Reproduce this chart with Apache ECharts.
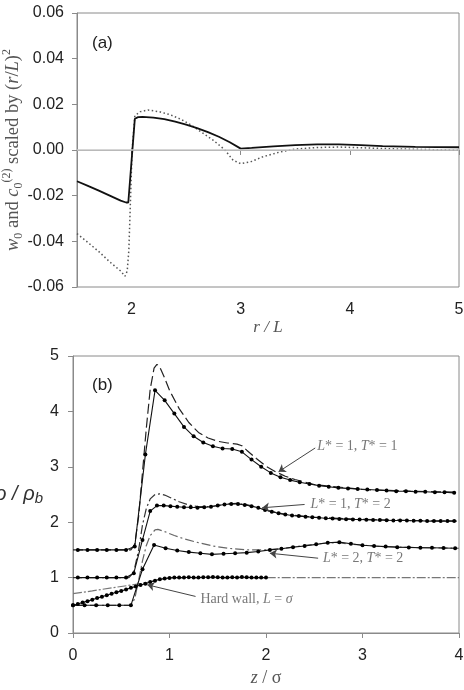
<!DOCTYPE html>
<html>
<head>
<meta charset="utf-8">
<script src="https://cdn.jsdelivr.net/npm/echarts@6/dist/echarts.min.js"></script>
<style>
  html, body { margin: 0; padding: 0; background: #fff; }
  #chart { width: 464px; height: 690px; }
</style>
</head>
<body>
<div id="chart"></div>
<script>
// ---- panel (a): w0 (solid) and c0(2) (dotted), both scaled by (r/L)^2 ----
const aTicks = [2, 3, 4, 5];
const w0R   = [1.5, 1.6, 1.7, 1.8, 1.9, 1.95, 1.97, 2.03, 2.06, 2.1, 2.2, 2.3, 2.4, 2.5, 2.6, 2.7, 2.8, 2.9, 3.0, 3.1, 3.3, 3.5, 3.7, 3.9, 4.1, 4.3, 4.6, 5.0];
const w0Val = [-0.0137, -0.0157, -0.0178, -0.0200, -0.0222, -0.0230, -0.0230, 0.0137, 0.0144, 0.0145, 0.0142, 0.0135, 0.0124, 0.0111, 0.0096, 0.0078, 0.0058, 0.0034, 0.0006, 0.0009, 0.0016, 0.0021, 0.0025, 0.0025, 0.0021, 0.0017, 0.0014, 0.0012];
const c0R   = [1.5, 1.6, 1.7, 1.8, 1.9, 1.94, 1.96, 1.975, 1.99, 2.005, 2.03, 2.08, 2.15, 2.25, 2.35, 2.45, 2.55, 2.65, 2.75, 2.85, 2.93, 3.0, 3.1, 3.2, 3.35, 3.5, 3.7, 3.9, 4.1, 4.4, 4.7, 5.0];
const c0Val = [-0.0366, -0.0405, -0.0445, -0.0490, -0.0530, -0.0553, -0.0530, -0.0440, -0.0220, 0.0000, 0.0150, 0.0168, 0.0175, 0.0168, 0.0155, 0.0135, 0.0108, 0.0075, 0.0042, 0.0003, -0.0045, -0.0060, -0.0050, -0.0030, -0.0010, 0.0004, 0.0011, 0.0013, 0.0010, 0.0005, 0.0002, 0.0000];

// ---- panel (b): density profiles, simulation (dots) and theory (dashed) ----
const l1t1SimZ   = [0.05, 0.15, 0.25, 0.35, 0.45, 0.55, 0.64, 0.75, 0.85, 0.95, 1.05, 1.15, 1.25, 1.35, 1.45, 1.55, 1.65, 1.75, 1.85, 1.95, 2.05, 2.15, 2.25, 2.35, 2.45, 2.55, 2.65, 2.75, 2.85, 2.95, 3.05, 3.15, 3.25, 3.35, 3.45, 3.55, 3.65, 3.75, 3.85, 3.95];
const l1t1SimRho = [1.5, 1.5, 1.5, 1.5, 1.5, 1.5, 1.56, 3.22, 4.38, 4.2, 3.96, 3.72, 3.55, 3.44, 3.37, 3.33, 3.32, 3.27, 3.13, 3.0, 2.89, 2.81, 2.76, 2.72, 2.69, 2.66, 2.64, 2.62, 2.61, 2.6, 2.59, 2.58, 2.57, 2.56, 2.56, 2.55, 2.55, 2.54, 2.54, 2.53];
const l1t1ThZ    = [0, 0.6, 0.64, 0.68, 0.72, 0.76, 0.8, 0.84, 0.87, 0.9, 0.95, 1.0, 1.1, 1.2, 1.3, 1.4, 1.5, 1.6, 1.7, 1.75, 1.8, 1.9, 2.0, 2.1, 2.2, 2.3, 2.5, 3.0, 3.5, 4.0];
const l1t1ThRho  = [1.5, 1.5, 1.6, 2.1, 2.9, 3.7, 4.4, 4.78, 4.85, 4.8, 4.6, 4.38, 4.05, 3.8, 3.62, 3.52, 3.46, 3.43, 3.41, 3.38, 3.3, 3.15, 3.01, 2.91, 2.83, 2.77, 2.68, 2.59, 2.56, 2.54];

const l1t2SimZ   = [0.05, 0.15, 0.25, 0.35, 0.45, 0.55, 0.63, 0.72, 0.8, 0.87, 0.94, 1.01, 1.08, 1.15, 1.22, 1.29, 1.36, 1.43, 1.5, 1.57, 1.64, 1.71, 1.78, 1.85, 1.92, 1.99, 2.06, 2.13, 2.2, 2.27, 2.34, 2.41, 2.48, 2.55, 2.62, 2.69, 2.76, 2.83, 2.9, 2.97, 3.04, 3.11, 3.18, 3.25, 3.32, 3.39, 3.46, 3.53, 3.6, 3.67, 3.74, 3.81, 3.88, 3.95];
const l1t2SimRho = [1.0, 1.0, 1.0, 1.0, 1.0, 1.0, 1.08, 1.68, 2.2, 2.3, 2.3, 2.29, 2.28, 2.27, 2.27, 2.26, 2.27, 2.28, 2.3, 2.32, 2.33, 2.33, 2.31, 2.29, 2.26, 2.22, 2.19, 2.16, 2.14, 2.12, 2.11, 2.1, 2.09, 2.08, 2.07, 2.065, 2.06, 2.055, 2.05, 2.05, 2.045, 2.04, 2.04, 2.035, 2.03, 2.03, 2.03, 2.025, 2.025, 2.02, 2.02, 2.02, 2.02, 2.02];
const l1t2ThZ    = [0, 0.58, 0.63, 0.68, 0.72, 0.76, 0.8, 0.85, 0.9, 0.95, 1.0, 1.1, 1.2, 1.3, 1.4, 1.5, 1.6, 1.7, 1.8, 1.9, 2.0, 2.2, 2.5, 3.0, 3.5, 4.0];
const l1t2ThRho  = [1.0, 1.0, 1.1, 1.5, 1.95, 2.25, 2.42, 2.5, 2.51, 2.49, 2.45, 2.37, 2.31, 2.28, 2.28, 2.3, 2.33, 2.34, 2.32, 2.27, 2.22, 2.14, 2.09, 2.05, 2.03, 2.02];

const l2t2SimZ   = [0.0, 0.12, 0.24, 0.36, 0.48, 0.6, 0.72, 0.84, 0.96, 1.08, 1.2, 1.32, 1.44, 1.56, 1.68, 1.8, 1.92, 2.04, 2.16, 2.28, 2.4, 2.52, 2.64, 2.76, 2.88, 3.0, 3.12, 3.24, 3.36, 3.48, 3.6, 3.72, 3.84, 3.96];
const l2t2SimRho = [0.5, 0.5, 0.5, 0.5, 0.5, 0.5, 1.15, 1.59, 1.53, 1.49, 1.46, 1.44, 1.42, 1.43, 1.44, 1.45, 1.47, 1.5, 1.52, 1.55, 1.57, 1.6, 1.63, 1.64, 1.61, 1.585, 1.57, 1.56, 1.55, 1.545, 1.54, 1.54, 1.535, 1.53];
const l2t2ThZ    = [0, 0.6, 0.64, 0.68, 0.72, 0.76, 0.8, 0.85, 0.88, 0.95, 1.05, 1.15, 1.3, 1.45, 1.6, 1.8, 2.0, 2.2, 2.4, 2.6, 2.75, 2.9, 3.2, 3.6, 4.0];
const l2t2ThRho  = [0.5, 0.5, 0.62, 0.95, 1.3, 1.58, 1.76, 1.86, 1.87, 1.83, 1.76, 1.7, 1.63, 1.57, 1.53, 1.5, 1.5, 1.53, 1.58, 1.62, 1.63, 1.6, 1.56, 1.54, 1.53];

const hardSimZ   = [0, 0.05, 0.1, 0.15, 0.2, 0.25, 0.3, 0.35, 0.4, 0.45, 0.5, 0.55, 0.6, 0.65, 0.7, 0.75, 0.8, 0.85, 0.9, 0.95, 1.0, 1.05, 1.1, 1.15, 1.2, 1.25, 1.3, 1.35, 1.4, 1.45, 1.5, 1.55, 1.6, 1.65, 1.7, 1.75, 1.8, 1.85, 1.9, 1.95, 2.0];
const hardSimRho = [0.5, 0.525, 0.55, 0.575, 0.6, 0.63, 0.655, 0.68, 0.71, 0.735, 0.76, 0.785, 0.815, 0.84, 0.865, 0.89, 0.92, 0.945, 0.97, 0.985, 0.995, 1.0, 1.0, 1.0, 1.005, 1.0, 1.0, 1.005, 1.005, 1.01, 1.005, 1.0, 1.0, 1.005, 1.0, 1.01, 1.005, 1.0, 1.0, 1.0, 1.0];
const hardThZ    = [0, 0.2, 0.4, 0.6, 0.7, 0.8, 0.9, 1.0, 1.1, 2.0, 3.0, 4.0];
const hardThRho  = [0.71, 0.76, 0.815, 0.865, 0.89, 0.925, 0.965, 0.99, 1.0, 1.0, 1.0, 1.0];

// annotation text anchors and arrows (data coordinates of panel b)
const noteText  = ['{i|L}{n|* = 1, }{i|T}{n|* = 1}', '{i|L}{n|* = 1, }{i|T}{n|* = 2}', '{i|L}{n|* = 2, }{i|T}{n|* = 2}', '{n|Hard wall, }{i|L}{n| = }{i|σ}'];
const noteAt    = [[2.53, 3.37], [2.46, 2.33], [2.59, 1.34], [1.32, 0.6]];
const arrowFrom = [[2.51, 3.34], [2.4, 2.32], [2.54, 1.35], [1.27, 0.66]];
const arrowTo   = [[2.13, 2.91], [1.96, 2.26], [2.04, 1.44], [0.77, 0.87]];

const pairs = (xs, ys) => xs.map((x, i) => [x, ys[i]]);

const frame = '#8a8a8a';
const tickFont = { fontFamily: 'Liberation Sans, Arial, sans-serif', fontSize: 16, color: '#222' };

const chart = echarts.init(document.getElementById('chart'), null, { renderer: 'canvas' });

function simLine(z, rho) {
    return {
        type: 'line', xAxisIndex: 1, yAxisIndex: 1,
        data: pairs(z, rho),
        symbol: 'circle', symbolSize: 4, showSymbol: true,
        itemStyle: { color: '#000' },
        lineStyle: { color: '#111', width: 1.1 },
        z: 4
    };
}
function theoryLine(z, rho, dash, color) {
    return {
        type: 'line', xAxisIndex: 1, yAxisIndex: 1,
        data: pairs(z, rho),
        symbol: 'none',
        lineStyle: { color: color, width: 1.2, type: dash },
        z: 3
    };
}

const option = {
    animation: false,
    backgroundColor: '#fff',
    grid: [
        { left: 77, top: 13, width: 382, height: 274, show: true, borderColor: frame, borderWidth: 1, outerBoundsMode: 'none', containLabel: false },
        { left: 73, top: 356, width: 386, height: 277, show: true, borderColor: frame, borderWidth: 1, outerBoundsMode: 'none', containLabel: false }
    ],
    xAxis: [
        {
            gridIndex: 0, type: 'value', min: 1.5, max: 5,
            axisLine: { lineStyle: { color: frame } },
            axisTick: { customValues: aTicks, length: 5, lineStyle: { color: frame } },
            axisLabel: Object.assign({ customValues: aTicks, margin: 15 }, tickFont),
            splitLine: { show: false },
            name: 'r / L', nameLocation: 'middle', nameGap: 28,
            nameTextStyle: { fontFamily: 'Liberation Serif, Times New Roman, serif', fontStyle: 'italic', fontSize: 17, color: '#555' }
        },
        {
            gridIndex: 1, type: 'value', min: 0, max: 4, interval: 1,
            axisLine: { lineStyle: { color: frame } },
            axisTick: { length: 5, lineStyle: { color: frame } },
            axisLabel: Object.assign({ margin: 15 }, tickFont),
            splitLine: { show: false },
            name: '{i|z}{n| / σ}', nameLocation: 'middle', nameGap: 36,
            nameTextStyle: {
                rich: {
                    i: { fontFamily: 'Liberation Serif, serif', fontStyle: 'italic', fontSize: 18, color: '#555' },
                    n: { fontFamily: 'Liberation Serif, serif', fontSize: 18, color: '#555' }
                }
            }
        }
    ],
    yAxis: [
        {
            gridIndex: 0, type: 'value', min: -0.06, max: 0.06, interval: 0.02,
            axisLine: { lineStyle: { color: frame } },
            axisTick: { length: 5, lineStyle: { color: frame } },
            axisLabel: Object.assign({ margin: 13, formatter: v => v.toFixed(2) }, tickFont),
            splitLine: { show: false },
            name: '{i|w}{sub|0}{n| and }{i|c}{sub|0}{sup|(2)}{n| scaled by (}{i|r}{n|/}{i|L}{n|)}{sup|2}',
            nameLocation: 'middle', nameRotate: 90, nameGap: 52, nameMoveOverlap: false,
            nameTextStyle: {
                rich: {
                    i: { fontFamily: 'Liberation Serif, serif', fontStyle: 'italic', fontSize: 18.5, color: '#555', lineHeight: 24 },
                    n: { fontFamily: 'Liberation Serif, serif', fontSize: 18.5, color: '#555', lineHeight: 24 },
                    sub: { fontFamily: 'Liberation Serif, serif', fontSize: 12, color: '#555', lineHeight: 12, verticalAlign: 'bottom' },
                    sup: { fontFamily: 'Liberation Serif, serif', fontSize: 12, color: '#555', lineHeight: 12, verticalAlign: 'top' }
                }
            }
        },
        {
            gridIndex: 1, type: 'value', min: 0, max: 5, interval: 1,
            axisLine: { lineStyle: { color: frame } },
            axisTick: { length: 5, lineStyle: { color: frame } },
            axisLabel: Object.assign({ margin: 14 }, tickFont),
            splitLine: { show: false },
            name: '{a|ρ / ρ}{b|b}', nameLocation: 'middle', nameRotate: 0, nameGap: 30, nameMoveOverlap: false,
            nameTextStyle: {
                rich: {
                    a: { fontFamily: 'Liberation Sans, Arial, sans-serif', fontStyle: 'italic', fontSize: 20, color: '#333', lineHeight: 24 },
                    b: { fontFamily: 'Liberation Sans, Arial, sans-serif', fontStyle: 'italic', fontSize: 15, color: '#333', lineHeight: 14, verticalAlign: 'bottom' }
                }
            }
        }
    ],
    graphic: [
        { type: 'text', left: 92, top: 35, style: { text: '(a)', font: '17px "Liberation Sans", Arial, sans-serif', fill: '#222' } },
        { type: 'text', left: 92, top: 377, style: { text: '(b)', font: '17px "Liberation Sans", Arial, sans-serif', fill: '#222' } }
    ],
    series: [
        // panel (a)
        {
            type: 'line', xAxisIndex: 0, yAxisIndex: 0,
            data: pairs(c0R, c0Val), symbol: 'none',
            lineStyle: { color: '#555', width: 1.5, type: [1.5, 2.5] },
            markLine: {
                silent: true, symbol: 'none', label: { show: false },
                lineStyle: { color: '#c8c8c8', width: 1.5, type: 'solid' },
                data: [{ yAxis: 0 }]
            },
            z: 3
        },
        {
            type: 'line', xAxisIndex: 0, yAxisIndex: 0,
            data: pairs(w0R, w0Val), symbol: 'none',
            lineStyle: { color: '#111', width: 1.8 },
            z: 4
        },
        // panel (b) theory
        theoryLine(l1t1ThZ, l1t1ThRho, [10, 4], '#222'),
        theoryLine(l1t2ThZ, l1t2ThRho, [9, 3, 2, 3], '#333'),
        theoryLine(l2t2ThZ, l2t2ThRho, [9, 3, 2, 3], '#666'),
        theoryLine(hardThZ, hardThRho, [9, 2, 2, 2], '#777'),
        // panel (b) simulation
        simLine(l1t1SimZ, l1t1SimRho),
        simLine(l1t2SimZ, l1t2SimRho),
        simLine(l2t2SimZ, l2t2SimRho),
        simLine(hardSimZ, hardSimRho),
        // annotations
        {
            type: 'scatter', xAxisIndex: 1, yAxisIndex: 1,
            symbolSize: 0, silent: true,
            data: noteAt.map((p, i) => ({ value: p, name: noteText[i] })),
            label: {
                show: true, position: 'right', distance: 0,
                formatter: p => p.name,
                rich: {
                    i: { fontFamily: 'Liberation Serif, serif', fontStyle: 'italic', fontSize: 14, color: '#555' },
                    n: { fontFamily: 'Liberation Serif, serif', fontSize: 14, color: '#555' }
                }
            },
            markLine: {
                silent: true, symbol: ['none', 'arrow'], symbolSize: 7,
                label: { show: false },
                lineStyle: { color: '#444', width: 1, type: 'solid' },
                data: arrowFrom.map((a, i) => [{ coord: a }, { coord: arrowTo[i] }])
            },
            z: 5
        }
    ]
};

chart.setOption(option);
</script>
</body>
</html>
